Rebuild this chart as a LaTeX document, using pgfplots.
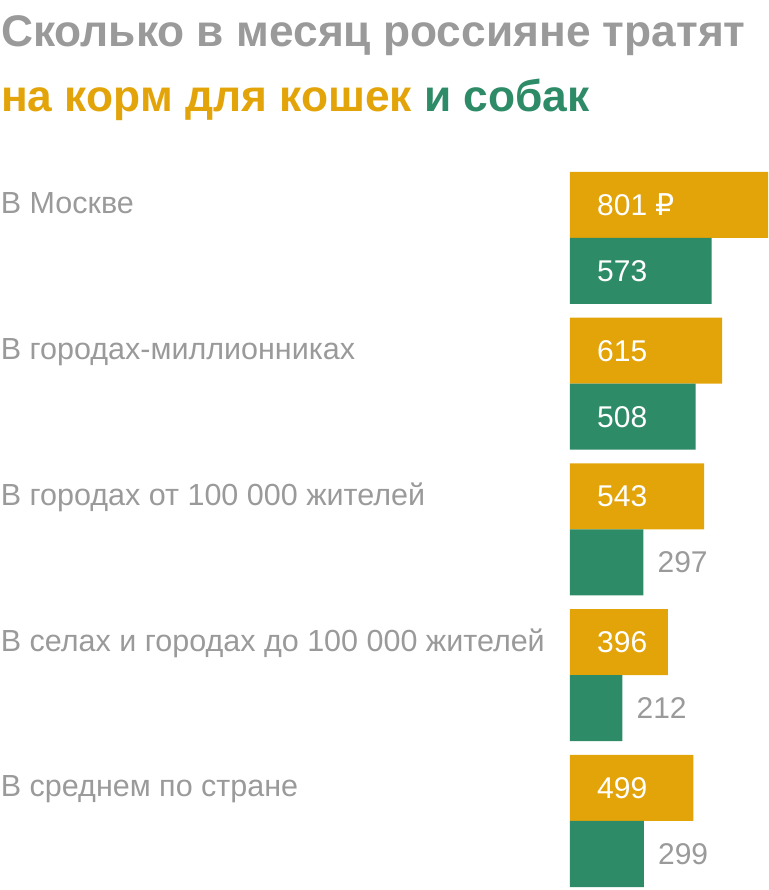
\documentclass[border=0pt]{standalone}
\usepackage{fontspec}
\setmainfont{Liberation Sans}
\newfontfamily\rubfont{DejaVu Sans}
\usepackage{pgfplots}
\pgfplotsset{compat=1.18}
\usepackage{pgfplotstable}

\definecolor{catcol}{HTML}{E3A40A}
\definecolor{dogcol}{HTML}{2E8B67}
\definecolor{labgray}{HTML}{9A9A9A}

\protected\def\rub{{\rubfont ₽}}

% y: 4 = Москва ... 0 = в среднем
\pgfplotstableread[col sep=comma]{
y,cat,catlab,dog,doglab
4,801,801 \rub,573,573
3,615,615,508,508
2,543,543,297,297
1,396,396,212,212
0,499,499,299,299
}\spend

\begin{document}
\begin{tikzpicture}
\useasboundingbox (-570pt,0pt) rectangle (198pt,890pt);
\begin{axis}[
  scale only axis,
  width=198pt, height=724.88pt,
  xmin=0, xmax=801,
  ymin=-0.4734, ymax=4.5,
  xbar, bar width=66pt,
  axis line style={draw=none},
  tick style={draw=none},
  xtick=\empty,
  ytick={0,1,2,3,4},
  yticklabels={В среднем по стране, В селах и городах до 100 000 жителей, В городах от 100 000 жителей, В городах-миллионниках, В Москве},
  yticklabel style={anchor=base west, xshift=-565pt, yshift=24pt, inner sep=0pt,
    text=labgray, font=\fontsize{30.5}{30.5}\selectfont},
  clip=false,
  point meta=explicit symbolic,
  visualization depends on={rawx \as \xval},
  nodes near coords={\ifdim\xval pt<350pt\color{labgray}\else\color{white}\fi\pgfplotspointmeta},
  every node near coord/.append style={anchor=west, inner sep=0pt,
    font=\fontsize{30}{30}\selectfont,
    xshift={ifthenelse(\xval<350,14,27-\xval*0.247191)*1pt}},
]
\addplot[fill=catcol, draw=none, bar shift=33pt]
  table[x=cat, y=y, meta=catlab] {\spend};
\addplot[fill=dogcol, draw=none, bar shift=-33pt]
  table[x=dog, y=y, meta=doglab] {\spend};
\end{axis}
\node[anchor=base west, inner sep=0pt, text=labgray, font=\bfseries\fontsize{44.3}{44.3}\selectfont]
  at (-569pt,843pt) {Сколько в месяц россияне тратят};
\node[anchor=base west, inner sep=0pt, font=\bfseries\fontsize{44.3}{44.3}\selectfont]
  at (-569pt,778.5pt) {\textcolor{catcol}{на корм для кошек} \textcolor{dogcol}{и собак}};
\end{tikzpicture}
\end{document}
